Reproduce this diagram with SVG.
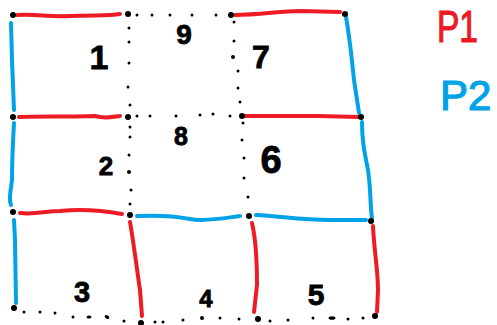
<svg xmlns="http://www.w3.org/2000/svg" width="497" height="325" viewBox="0 0 497 325">
<style>
.r{fill:none;stroke:#ed1c24;stroke-width:4;stroke-linecap:round;stroke-linejoin:round}
.b{fill:none;stroke:#00a2e8;stroke-width:4;stroke-linecap:round;stroke-linejoin:round}
.n{fill:#000}
.d{fill:#000}
.t{font-family:"Liberation Sans",Arial,sans-serif;font-weight:bold;fill:#000;stroke:#000;stroke-width:0.8;text-anchor:middle}
.k{font-family:"Liberation Sans",Arial,sans-serif;text-anchor:start;stroke-width:1.2}
</style>
<rect width="497" height="325" fill="#fff"/>
<g id="connectors">
<path class="r" d="M17,15 C40,14 45,17 70,16 S110,16 120,14"/>
<path class="r" d="M235,15 C260,15 280,11 300,11 L340,12"/>
<path class="r" d="M19,117 C40,116 60,117 95,116 C105,119 112,117 120,116"/>
<path class="r" d="M245,116 L318,116 L358,117"/>
<path class="r" d="M20,213 C35,215 45,211 60,211 C80,209 100,210 122,214"/>
<path class="r" d="M130,222 C134,245 137,270 140,290 L142,316"/>
<path class="r" d="M252,223 C256,240 257,260 257,285 L254,312"/>
<path class="r" d="M373,226 C374,250 378,270 378,290 L377,312"/>
<path class="b" d="M11,23 L12,60 L14,110"/>
<path class="b" d="M14,123 C13,140 12,160 12,180 C10,195 9,200 11,205"/>
<path class="b" d="M14,220 L15,240 L16,303"/>
<path class="b" d="M346,17 C350,40 352,60 354,80 L359,113"/>
<path class="b" d="M362,122 C362,140 364,150 368,170 C371,190 370,205 372,218"/>
<path class="b" d="M137,216 C160,215 175,216 190,219 C205,222 225,218 240,216"/>
<path class="b" d="M256,215 C280,216 300,220 330,220 L366,220"/>
<g id="dots">
<circle class="d" cx="137" cy="15" r="1.5"/><circle class="d" cx="152" cy="15" r="1.5"/><circle class="d" cx="170" cy="15" r="1.5"/><circle class="d" cx="192" cy="15" r="1.5"/><circle class="d" cx="216" cy="15" r="1.5"/>
<circle class="d" cx="129" cy="28" r="1.5"/><circle class="d" cx="129" cy="42" r="1.5"/><circle class="d" cx="129" cy="63" r="1.5"/><circle class="d" cx="128" cy="87" r="1.5"/><circle class="d" cx="130" cy="105" r="1.5"/>
<circle class="d" cx="234" cy="22" r="1.5"/><circle class="d" cx="234" cy="41" r="1.5"/><circle class="d" cx="233" cy="57" r="2"/><circle class="d" cx="238" cy="71" r="1.5"/><circle class="d" cx="238" cy="88" r="1.5"/><circle class="d" cx="240" cy="102" r="1.5"/>
<circle class="d" cx="137" cy="116" r="1.5"/><circle class="d" cx="150" cy="116" r="1.5"/><circle class="d" cx="176" cy="116" r="1.5"/><circle class="d" cx="200" cy="115" r="1.5"/><circle class="d" cx="213" cy="114" r="1.5"/><circle class="d" cx="230" cy="116" r="1.5"/>
<circle class="d" cx="130" cy="127" r="1.5"/><circle class="d" cx="130" cy="137" r="1.5"/><circle class="d" cx="129" cy="155" r="1.5"/><circle class="d" cx="129" cy="172" r="2"/><circle class="d" cx="131" cy="190" r="1.5"/><circle class="d" cx="130" cy="204" r="1.5"/>
<circle class="d" cx="243" cy="123" r="1.5"/><circle class="d" cx="242" cy="140" r="1.5"/><circle class="d" cx="244" cy="158" r="1.5"/><circle class="d" cx="244" cy="178" r="1.5"/><circle class="d" cx="248" cy="197" r="1.5"/>
<circle class="d" cx="24" cy="312" r="1.5"/><circle class="d" cx="40" cy="312" r="1.5"/><circle class="d" cx="55" cy="313" r="1.5"/><circle class="d" cx="73" cy="317" r="1.5"/><ellipse class="d" cx="89" cy="317" rx="2.5" ry="1.6"/><ellipse class="d" cx="107" cy="317" rx="2.5" ry="1.6" transform="rotate(30 107 317)"/><circle class="d" cx="124" cy="321" r="1.5"/>
<circle class="d" cx="155" cy="322" r="1.5"/><circle class="d" cx="163" cy="322" r="1.5"/><circle class="d" cx="183" cy="320" r="1.5"/><circle class="d" cx="202" cy="318" r="2"/><circle class="d" cx="220" cy="318" r="1.5"/><circle class="d" cx="239" cy="319" r="1.5"/>
<circle class="d" cx="270" cy="321" r="1.5"/><circle class="d" cx="288" cy="320" r="1.5"/><circle class="d" cx="313" cy="318" r="1.5"/><ellipse class="d" cx="332" cy="318" rx="3.5" ry="1.8"/><circle class="d" cx="348" cy="319" r="1.5"/><circle class="d" cx="363" cy="318" r="1.5"/>
</g>
</g>
<g id="nodes">
<circle id="nA" class="n" cx="13" cy="15" r="3"/>
<circle id="nB" class="n" cx="128" cy="14" r="3"/>
<circle id="nC" class="n" cx="231" cy="15" r="3"/>
<circle id="nD" class="n" cx="345" cy="14" r="3"/>
<circle id="nE" class="n" cx="13" cy="117" r="3"/>
<circle id="nF" class="n" cx="128" cy="117" r="3"/>
<circle id="nG" class="n" cx="242" cy="116" r="3"/>
<circle id="nH" class="n" cx="361" cy="117" r="3"/>
<circle id="nI" class="n" cx="13" cy="212" r="3"/>
<circle id="nJ" class="n" cx="130" cy="215" r="3"/>
<circle id="nK" class="n" cx="249" cy="216" r="3"/>
<circle id="nL" class="n" cx="371" cy="221" r="3"/>
<circle id="nM" class="n" cx="14" cy="308" r="3"/>
<circle id="nN" class="n" cx="141" cy="323" r="3"/>
<circle id="nO" class="n" cx="258" cy="319" r="3"/>
<circle id="nP" class="n" cx="375" cy="316" r="3"/>
</g>
<g id="labels">
<text id="l1" class="t" x="99" y="69" font-size="34">1</text>
<text id="l9" class="t" x="184" y="44" font-size="28">9</text>
<text id="l7" class="t" x="261" y="68" font-size="32">7</text>
<text id="l2" class="t" x="106" y="175" font-size="26">2</text>
<text id="l8" class="t" x="181" y="145" font-size="25">8</text>
<text id="l6" class="t" x="271" y="173" font-size="38">6</text>
<text id="l3" class="t" x="82" y="302" font-size="29">3</text>
<text id="l4" class="t" x="206" y="307" font-size="24">4</text>
<text id="l5" class="t" x="316" y="305" font-size="30">5</text>
</g>
<g id="legend">
<text class="k" x="437" y="42" font-size="45" fill="#ed1c24" stroke="#ed1c24" textLength="41" lengthAdjust="spacingAndGlyphs">P1</text>
<text class="k" x="440" y="110" font-size="42" fill="#00a2e8" stroke="#00a2e8">P2</text>
</g>
</svg>
